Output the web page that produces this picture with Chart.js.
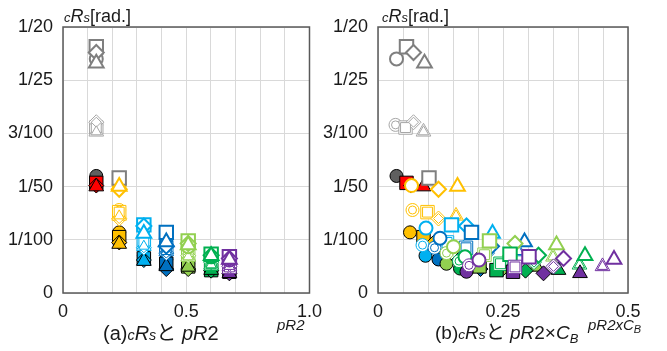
<!DOCTYPE html>
<html>
<head>
<meta charset="utf-8">
<script src="https://cdn.jsdelivr.net/npm/chart.js@4.4.0/dist/chart.umd.min.js"></script>
<style>
  body { margin: 0; background: #fff; }
  #wrap { position: relative; width: 667px; height: 351px; overflow: hidden;
          font-family: "Liberation Sans", Arial, "Noto Sans CJK JP", sans-serif; color: #1a1a1a; }
  .cv { position: absolute; top: 0; }
  .txt { position: absolute; white-space: nowrap; line-height: 1; }
  .s { font-style: italic; font-size: 0.72em; }
  i { font-style: italic; }
</style>
</head>
<body>
<div id="wrap">
  <canvas id="chartA" class="cv" width="330" height="351" style="left:0"></canvas>
  <canvas id="chartB" class="cv" width="367" height="351" style="left:300px"></canvas>

  <div class="txt" style="left:64px;top:7px;font-size:18px"><span class="s">c</span><i>R</i><span class="s">s</span>[rad.]</div>
  <div class="txt" style="left:277px;top:317px;font-size:15px"><i>pR2</i></div>
  <div class="txt" style="left:103px;top:323px;font-size:20px">(a)<span class="s">c</span><i>R</i><span class="s">s</span>と <i>pR</i>2</div>

  <div class="txt" style="left:382px;top:7px;font-size:18px"><span class="s">c</span><i>R</i><span class="s">s</span>[rad.]</div>
  <div class="txt" style="left:588px;top:317px;font-size:15px"><i>pR2xC<span style="font-size:11px;vertical-align:-3px">B</span></i></div>
  <div class="txt" style="left:435px;top:323px;font-size:19px">(b)<span class="s">c</span><i>R</i><span class="s">s</span>と <i>pR</i>2×<i>C<span style="font-size:13px;vertical-align:-4px">B</span></i></div>
</div>

<script>
// pR2 of each group (x of chart a)
const pR2 = [0.135, 0.228, 0.328, 0.419, 0.508, 0.601, 0.675];

// cRs values, rows = groups, columns = circle, square, diamond, triangle
const rsFilled = [
  [0.0220, 0.0207, 0.0202, 0.0200],
  [0.0114, 0.0105, 0.0095, 0.0092],
  [0.0070, 0.0065, 0.0062, 0.0060],
  [0.0063, 0.0055, 0.0045, 0.0050],
  [0.0055, 0.0050, 0.0045, 0.0049],
  [0.0046, 0.0043, 0.0042, 0.0043],
  [0.0040, 0.0040, 0.0037, 0.0037]
];
const rsDouble = [
  [0.0316, 0.0311, 0.0321, 0.0303],
  [0.0156, 0.0152, 0.0140, 0.0145],
  [0.0090, 0.0095, 0.0085, 0.0088],
  [0.0085, 0.0085, 0.0075, 0.0078],
  [0.0075, 0.0072, 0.0070, 0.0068],
  [0.0060, 0.0055, 0.0058, 0.0053],
  [0.0052, 0.0049, 0.0050, 0.0050]
];
const rsOutline = [
  [0.0440, 0.0463, 0.0452, 0.0432],
  [0.0202, 0.0216, 0.0195, 0.0200],
  [0.0122, 0.0128, 0.0126, 0.0112],
  [0.0103, 0.0114, 0.0088, 0.0096],
  [0.0087, 0.0098, 0.0093, 0.0090],
  [0.0068, 0.0073, 0.0071, 0.0070],
  [0.0062, 0.0068, 0.0065, 0.0063]
];

// pR2 x CB (x of chart b)
const xbFilled = [
  [0.037, 0.057, 0.066, 0.091],
  [0.064, 0.091, 0.112, 0.137],
  [0.095, 0.131, 0.161, 0.197],
  [0.121, 0.168, 0.205, 0.251],
  [0.137, 0.203, 0.249, 0.317],
  [0.164, 0.237, 0.295, 0.361],
  [0.177, 0.270, 0.331, 0.404]
];
const xbDouble = [
  [0.035, 0.055, 0.071, 0.091],
  [0.069, 0.099, 0.121, 0.156],
  [0.089, 0.138, 0.171, 0.220],
  [0.113, 0.176, 0.218, 0.281],
  [0.137, 0.213, 0.264, 0.350],
  [0.162, 0.245, 0.312, 0.403],
  [0.182, 0.274, 0.351, 0.449]
];
const xbOutline = [
  [0.037, 0.057, 0.071, 0.093],
  [0.067, 0.102, 0.121, 0.159],
  [0.096, 0.147, 0.177, 0.229],
  [0.124, 0.187, 0.227, 0.293],
  [0.151, 0.223, 0.274, 0.357],
  [0.174, 0.264, 0.321, 0.414],
  [0.202, 0.302, 0.371, 0.472]
];

const yTickLabels = ['0', '1/100', '1/50', '3/100', '1/25', '1/20'];
const xTickLabelsA = ['0', '', '', '', '', '0.5', '', '', '', '', '1.0'];
const xTickLabelsB = ['0', '', '', '', '', '0.25', '', '', '', '', '0.5'];

// styles
const groupColors = ['#7F7F7F', '#FFC000', '#00B0F0', '#0070C0', '#92D050', '#00B050', '#7030A0'];
const doubleColors = ['#A6A6A6', '#FFC000', '#00B0F0', '#0070C0', '#92D050', '#00B050', '#7030A0'];
const shapes = ['circle', 'rect', 'rectRot', 'triangle'];
const radii = [6.5, 9.5, 7.5, 8.5];

function fillColors(g) {
  if (g === 0) return ['#5F5F5F', '#FF0000', '#FF0000', '#FF0000'];
  return groupColors[g];
}
function lineColors(g) {
  if (g === 1) return ['#FFC000', '#7F7F7F', '#FFC000', '#FFC000'];
  return groupColors[g];
}

function pts(xs, ys) {
  return ys.map((y, i) => ({ x: Array.isArray(xs) ? xs[i] : xs, y: y }));
}

function buildDatasets(useB) {
  const ds = [];
  pR2.forEach((p, g) => {
    const xf = useB ? xbFilled[g] : p;
    const xd = useB ? xbDouble[g] : p;
    const xo = useB ? xbOutline[g] : p;
    ds.push({
      data: pts(xf, rsFilled[g]),
      pointStyle: shapes, pointRadius: radii,
      backgroundColor: fillColors(g), borderColor: '#000', borderWidth: 1
    });
    // double line: outer + inner outline
    ds.push({
      data: pts(xd, rsDouble[g]),
      pointStyle: shapes, pointRadius: radii,
      backgroundColor: '#fff', borderColor: doubleColors[g], borderWidth: 1
    });
    ds.push({
      data: pts(xd, rsDouble[g]),
      pointStyle: shapes, pointRadius: radii.map(r => r - 2.5),
      backgroundColor: '#fff', borderColor: doubleColors[g], borderWidth: 1
    });
    ds.push({
      data: pts(xo, rsOutline[g]),
      pointStyle: shapes, pointRadius: radii,
      backgroundColor: '#fff', borderColor: lineColors(g), borderWidth: 2
    });
  });
  ds.forEach((d, i) => {
    d.order = 1000 - i;
    d.pointHoverRadius = d.pointRadius;
  });
  return ds;
}

const frame = {
  id: 'frame',
  afterDatasetsDraw(chart) {
    const a = chart.chartArea, ctx = chart.ctx;
    ctx.save();
    ctx.strokeStyle = '#595959';
    ctx.lineWidth = 1.5;
    ctx.strokeRect(a.left, a.top, a.right - a.left, a.bottom - a.top);
    ctx.restore();
  }
};

function makeChart(id, useB, yWidth, rightPad, xMax, xStep, xLabels) {
  return new Chart(document.getElementById(id), {
    type: 'scatter',
    data: { datasets: buildDatasets(useB) },
    options: {
      responsive: false,
      animation: false,
      clip: false,
      layout: { padding: { top: 27, right: rightPad, left: 0, bottom: 0 } },
      plugins: { legend: { display: false }, tooltip: { enabled: false } },
      scales: {
        x: {
          type: 'linear', min: 0, max: xMax,
          afterFit(s) { s.height = 58; },
          grid: { color: '#D9D9D9', drawTicks: false },
          border: { display: false },
          ticks: {
            stepSize: xStep, autoSkip: false, maxRotation: 0, padding: 8,
            color: '#1a1a1a', font: { size: 18, family: '"Liberation Sans", Arial' },
            callback: (v, i) => xLabels[i]
          }
        },
        y: {
          type: 'linear', min: 0, max: 0.05,
          afterFit(s) { s.width = yWidth; },
          grid: { color: '#D9D9D9', drawTicks: false },
          border: { display: false },
          ticks: {
            stepSize: 0.01, autoSkip: false, padding: 10,
            color: '#1a1a1a', font: { size: 18, family: '"Liberation Sans", Arial' },
            callback: (v, i) => yTickLabels[i]
          }
        }
      }
    },
    plugins: [frame]
  });
}

makeChart('chartA', false, 63, 17, 1, 0.1, xTickLabelsA);
makeChart('chartB', true, 78, 39, 0.5, 0.05, xTickLabelsB);
</script>
</body>
</html>
